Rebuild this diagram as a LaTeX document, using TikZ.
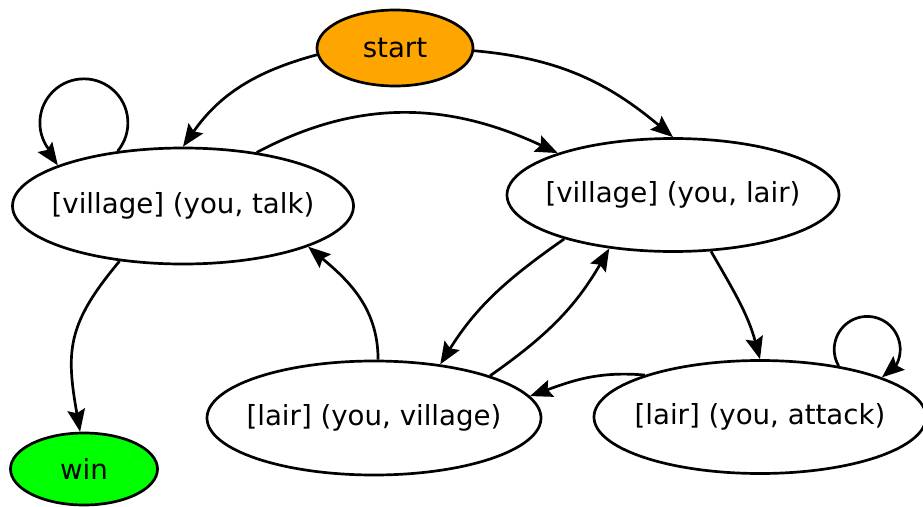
\documentclass[tikz,border=0pt]{standalone}
\usepackage{fontspec}
\setmainfont{DejaVu Sans}
\usepackage{xcolor}
\usetikzlibrary{shapes.geometric,arrows.meta}

\definecolor{startorange}{HTML}{FFA500}
\definecolor{wingreen}{HTML}{00FF00}

\begin{document}
\begin{tikzpicture}[x=0.03cm, y=0.03cm, font=\fontsize{23.6}{28}\selectfont]
    \tikzstyle{state} = [ellipse, draw, line width=2.3pt, fill=white, inner sep=0pt, inner xsep=-20pt]
    \tikzstyle{arrow} = [line width=2.3pt, ->, >={Stealth[length=19pt,width=15pt,inset=3pt]}]

    \useasboundingbox (0,0) rectangle (923,-507);

    % States
    \node [state, fill=startorange, minimum width=4.68cm, minimum height=2.28cm] (start) at (395,-48) {start};
    \node [state, minimum width=10.23cm, minimum height=3.48cm] (talk) at (183,-206) {[village] (you, talk)};
    \node [state, minimum width=9.96cm, minimum height=3.39cm] (villair) at (673,-195) {[village] (you, lair)};
    \node [state, minimum width=10.02cm, minimum height=3.42cm] (lairvil) at (374,-418) {[lair] (you, village)};
    \node [state, minimum width=9.96cm, minimum height=3.39cm] (attack) at (760,-417) {[lair] (you, attack)};
    \node [state, fill=wingreen, minimum width=4.41cm, minimum height=2.16cm] (win) at (84,-469) {win};

    % Arrows
    \draw [arrow] (start.185) to[out=195, in=55] (talk.north);
    \draw [arrow] (start.358) to[out=-5, in=140] (villair.north);
    \draw [arrow] (talk.36) to[out=28, in=155] (villair.160);
    \draw [arrow] (talk.221) to[out=230, in=100, looseness=1.2] (win.96);
    \draw [arrow] (lairvil.86) to[out=90, in=-40] (talk.342);
    \draw [arrow] (villair.202) to[out=215, in=58] (lairvil.39);
    \draw [arrow] (lairvil.20) to[out=35, in=240] (villair.220);
    \draw [arrow] (villair.304) to[out=-60, in=105] (attack.north);
    \draw [arrow] (attack.160) to[out=175, in=20] (lairvil.8);

    % Loops
    \draw [arrow] (talk.140) arc[start angle=-40, end angle=215, radius=1.32cm]
        to[out=-55, in=125] (talk.162);
    \draw [arrow] (attack.33) arc[start angle=210, end angle=-25, radius=0.99cm]
        to[out=-115, in=40] (attack.18);
\end{tikzpicture}
\end{document}
